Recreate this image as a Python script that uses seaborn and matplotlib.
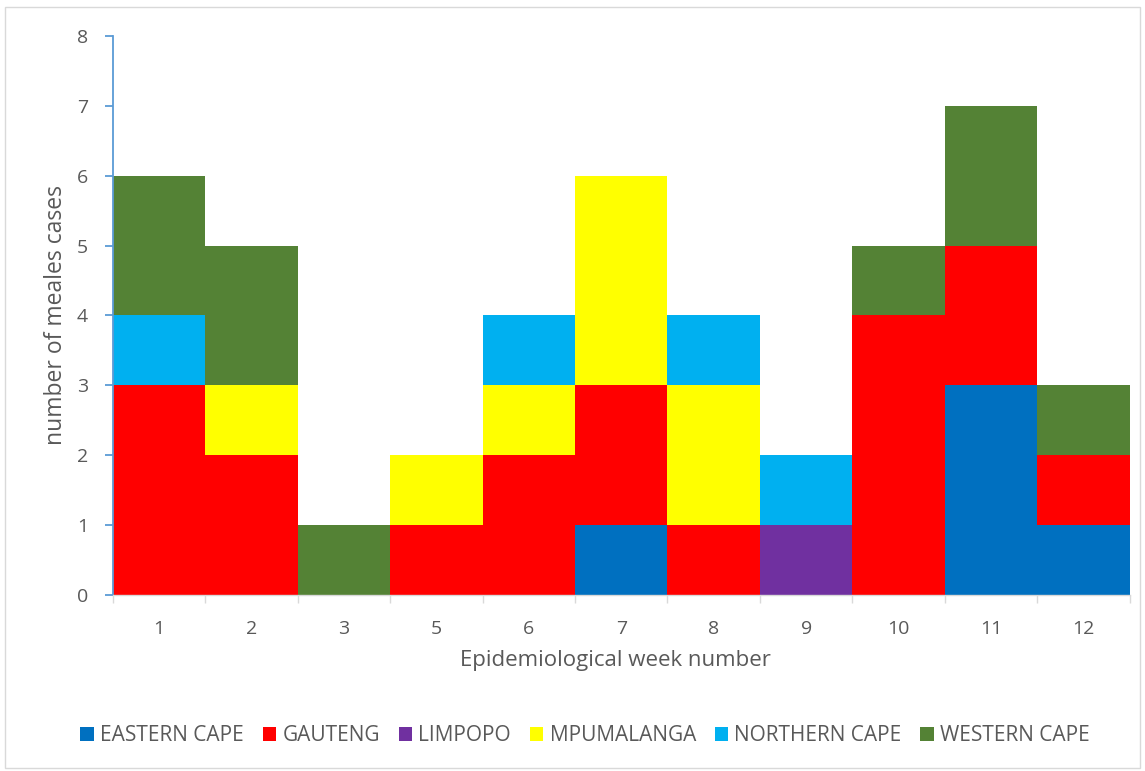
import matplotlib
matplotlib.use("Agg")
import matplotlib.pyplot as plt
from matplotlib.patches import Rectangle
import numpy as np
import pandas as pd
import seaborn as sns

weeks = ["1", "2", "3", "5", "6", "7", "8", "9", "10", "11", "12"]
eastern_cape = [0, 0, 0, 0, 0, 1, 0, 0, 0, 3, 1]
gauteng = [3, 2, 0, 1, 2, 2, 1, 0, 4, 2, 1]
limpopo = [0, 0, 0, 0, 0, 0, 0, 1, 0, 0, 0]
mpumalanga = [0, 1, 0, 1, 1, 3, 2, 0, 0, 0, 0]
northern_cape = [1, 0, 0, 0, 1, 0, 1, 1, 0, 0, 0]
western_cape = [2, 2, 1, 0, 0, 0, 0, 0, 1, 2, 1]

provinces = ["EASTERN CAPE", "GAUTENG", "LIMPOPO", "MPUMALANGA", "NORTHERN CAPE", "WESTERN CAPE"]
series = [eastern_cape, gauteng, limpopo, mpumalanga, northern_cape, western_cape]
colors = ["#0070C0", "#FF0000", "#7030A0", "#FFFF00", "#00B0F0", "#548235"]

sns.set_theme(style="white")
plt.rcParams["font.family"] = ["Open Sans", "DejaVu Sans"]
text_color = "#595959"

fig = plt.figure(figsize=(11.45, 7.71), dpi=100)
ax = fig.add_axes([0.0987, 0.2283, 0.8878, 0.725])

# Stack by drawing cumulative totals from the top series down
cum = np.cumsum(np.array(series), axis=0)
for i in range(len(provinces) - 1, -1, -1):
    df = pd.DataFrame({"week": weeks, "value": cum[i]})
    sns.barplot(data=df, x="week", y="value", order=weeks, color=colors[i],
                width=1.0, linewidth=0, saturation=1, ax=ax)

ax.set_xlim(-0.5, len(weeks) - 0.5)
ax.set_ylim(0, 8)
ax.set_yticks(range(0, 9))
ax.set_xlabel("Epidemiological week number", fontsize=16, color=text_color)
ax.set_ylabel("number of meales cases", fontsize=16.5, color=text_color)
ax.xaxis.set_label_coords(0.4945, -0.098)
ax.yaxis.set_label_coords(-0.0445, 0.5)

for s in ["top", "right"]:
    ax.spines[s].set_visible(False)
ax.spines["left"].set_color("#5B9BD5")
ax.spines["left"].set_linewidth(1.3)
ax.spines["bottom"].set_color("#D9D9D9")
ax.spines["bottom"].set_linewidth(1.0)

ax.tick_params(axis="y", which="major", left=True, length=6, width=1.3,
               color="#5B9BD5", labelsize=14, labelcolor=text_color, pad=12)
ax.tick_params(axis="x", which="major", bottom=False, labelsize=14,
               labelcolor=text_color, pad=12)
ax.set_xticks(np.arange(-0.5, len(weeks)), minor=True)
ax.tick_params(axis="x", which="minor", bottom=True, length=6, width=1.0,
               color="#D9D9D9")

handles = [Rectangle((0, 0), 1, 1, facecolor=c, edgecolor="none") for c in colors]
fig.legend(handles, provinces, loc="center", bbox_to_anchor=(0.511, 0.046), ncol=6,
           frameon=False, fontsize=15, labelcolor=text_color, handlelength=0.65,
           handleheight=0.65, handletextpad=0.3, columnspacing=0.9)

fig.add_artist(Rectangle((0.004, 0.004), 0.992, 0.987, transform=fig.transFigure,
                         fill=False, edgecolor="#D9D9D9", linewidth=1.0))

fig.savefig("out.png", dpi=100)
